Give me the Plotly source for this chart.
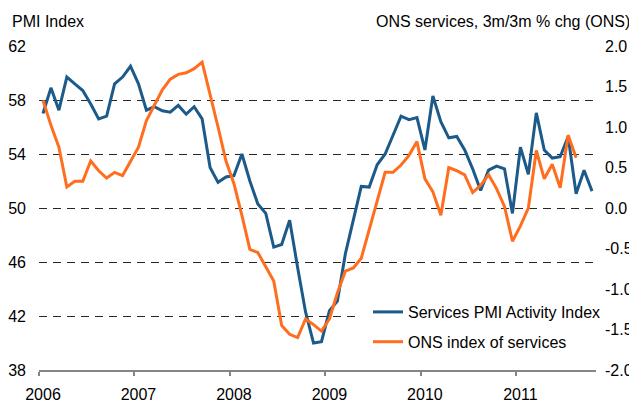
import plotly.graph_objects as go

# Monthly data, Jan 2006 onwards
pmi = [57.0, 58.9, 57.25, 59.7, 59.2, 58.7, 57.7, 56.6, 56.8, 59.2, 59.7, 60.5,
       59.2, 57.25, 57.5, 57.2, 57.1, 57.6, 56.95, 57.5, 56.6, 53.0, 51.9, 52.3,
       52.4, 54.0, 52.0, 50.3, 49.6, 47.1, 47.3, 49.1, 45.6, 42.3, 40.0, 40.1,
       42.4, 43.1, 46.6, 49.1, 51.6, 51.55, 53.2, 54.0, 55.4, 56.8, 56.55, 56.7,
       54.3, 58.3, 56.4, 55.2, 55.3, 54.3, 52.9, 51.3, 52.8, 53.1, 52.9, 49.6,
       54.5, 52.5, 57.05, 54.3, 53.7, 53.8, 55.3, 51.05, 52.8, 51.25]
ons = [1.33, 1.02, 0.75, 0.26, 0.33, 0.33, 0.58, 0.46, 0.37, 0.44, 0.40, 0.58,
       0.75, 1.08, 1.27, 1.46, 1.59, 1.65, 1.67, 1.72, 1.80, 1.41, 1.0, 0.58,
       0.30, -0.09, -0.51, -0.55, -0.73, -0.90, -1.45, -1.56, -1.60, -1.37, -1.44, -1.52,
       -1.37, -1.05, -0.78, -0.74, -0.62, -0.27, 0.10, 0.44, 0.44, 0.53, 0.65, 0.82,
       0.36, 0.20, -0.09, 0.50, 0.46, 0.41, 0.19, 0.28, 0.41, 0.24, 0.02, -0.41,
       -0.22, 0.0, 0.71, 0.36, 0.54, 0.25, 0.90, 0.62]
years = ["2006", "2007", "2008", "2009", "2010", "2011"]
left_ticks = [38, 42, 46, 50, 54, 58, 62]
right_ticks = [-2.0, -1.5, -1.0, -0.5, 0.0, 0.5, 1.0, 1.5, 2.0]
right_text = ["-2.0", "-1.5", "-1.0", "-0.5", "0.0", "0.5", "1.0", "1.5", "2.0"]

n_months = len(pmi)
x_pmi = [i + 0.5 for i in range(len(pmi))]
x_ons = [i + 0.5 for i in range(len(ons))]

FONT = "Liberation Sans, Arial, sans-serif"
BLUE = "#1c5a8a"
ORANGE = "#ff6e1f"
AXIS = "#858585"

fig = go.Figure()
fig.add_trace(go.Scatter(x=x_pmi, y=pmi, mode="lines", name="Services PMI Activity Index",
                         line=dict(color=BLUE, width=3), legendgroup="a"))
fig.add_trace(go.Scatter(x=x_ons, y=ons, mode="lines", name="ONS index of services",
                         line=dict(color=ORANGE, width=3), yaxis="y2", legendgroup="b"))

# page has an 8px body margin; figure is sized to fit inside the window
OFF = 8
W, H = 637 - OFF, 406 - OFF
PL, PR, PT, PB = 39, 596, 46, 370          # plot area in page pixels
L, R, T, B = PL - OFF, W - (PR - OFF), PT - OFF, H - (PB - OFF)
pw, ph = W - L - R, H - T - B

def fx(p):
    return (p - OFF - L) / pw

def fy(p):
    return (H - B - (p - OFF)) / ph

fig.update_layout(
    width=W, height=H,
    margin=dict(l=L, r=R, t=T, b=B, pad=0, autoexpand=False),
    paper_bgcolor="white", plot_bgcolor="white",
    font=dict(family=FONT, size=16, color="#000000"),
    showlegend=True,
    legend=dict(x=fx(368), y=fy(295), xanchor="left", yanchor="top",
                bgcolor="rgba(0,0,0,0)", borderwidth=0, tracegroupgap=6,
                font=dict(family=FONT, size=16, color="#000000")),
    xaxis=dict(range=[0, n_months], showgrid=False, zeroline=False, automargin=False,
               showline=True, linecolor=AXIS, linewidth=1.5,
               tickmode="array", tickvals=[12 * k + 0.5 for k in range(len(years))],
               ticktext=years, ticks="", ticklabelstandoff=9,
               minor=dict(tickmode="array", tickvals=[12 * k for k in range(len(years))],
                          ticks="outside", ticklen=4, tickwidth=1.5, tickcolor=AXIS,
                          showgrid=False)),
    yaxis=dict(range=[38, 62], tickmode="array", tickvals=left_ticks, automargin=False,
               showgrid=True, gridcolor="#262626", gridwidth=1, griddash="8px,6px",
               zeroline=False, showline=False, ticks="", ticklabelstandoff=12),
    yaxis2=dict(range=[-2, 2], overlaying="y", side="right", tickmode="array",
                automargin=False,
                tickvals=right_ticks, ticktext=right_text, showgrid=False,
                zeroline=False, showline=False, ticks="", ticklabelstandoff=8),
    shapes=[dict(type="rect", xref="paper", yref="paper",
                 x0=fx(358), x1=1.0, y0=fy(352), y1=fy(298),
                 fillcolor="white", line=dict(width=0), layer="above")],
    annotations=[
        dict(text="PMI Index", xref="paper", yref="paper", x=fx(10), y=fy(22),
             xanchor="left", yanchor="middle", showarrow=False,
             font=dict(family=FONT, size=16, color="#000000")),
        dict(text="ONS services, 3m/3m % chg (ONS)", xref="paper", yref="paper",
             x=fx(632), y=fy(21), xanchor="right", yanchor="middle", showarrow=False,
             font=dict(family=FONT, size=16, color="#000000")),
    ],
)

fig.write_html("out.html")
